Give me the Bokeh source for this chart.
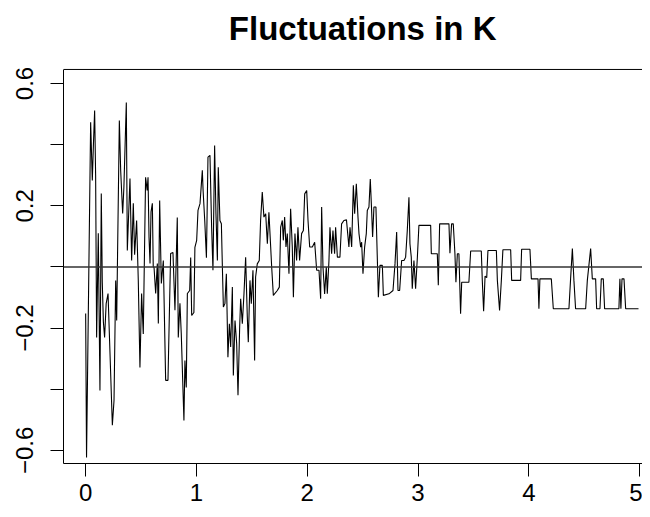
from bokeh.plotting import figure
from bokeh.models import Span, FixedTicker, LinearAxis, Range1d, Label
from bokeh.embed import file_html
from bokeh.resources import INLINE

# ---- data ----
t_vals = [
    0.000, 0.008, 0.045, 0.060, 0.070, 0.081, 0.090, 0.099, 0.114, 0.129,
    0.141, 0.150, 0.160, 0.171, 0.185, 0.202, 0.241, 0.256, 0.271, 0.280,
    0.304, 0.316, 0.334, 0.345, 0.367, 0.376, 0.400, 0.415, 0.430, 0.442,
    0.460, 0.475, 0.490, 0.505, 0.520, 0.541, 0.555, 0.563, 0.572, 0.581,
    0.590, 0.602, 0.610, 0.617, 0.632, 0.647, 0.656, 0.668, 0.683, 0.701,
    0.722, 0.743, 0.767, 0.788, 0.806, 0.827, 0.836, 0.851, 0.863, 0.887,
    0.896, 0.908, 0.918, 0.939, 0.948, 0.957, 0.977, 0.986, 1.002, 1.014,
    1.032, 1.053, 1.060, 1.075, 1.090, 1.104, 1.122, 1.137, 1.149, 1.164,
    1.176, 1.189, 1.197, 1.212, 1.225, 1.234, 1.243, 1.257, 1.270, 1.284,
    1.297, 1.309, 1.324, 1.333, 1.348, 1.363, 1.375, 1.390, 1.399, 1.414,
    1.429, 1.444, 1.459, 1.468, 1.483, 1.495, 1.510, 1.525, 1.534, 1.549,
    1.567, 1.579, 1.594, 1.609, 1.625, 1.640, 1.654, 1.670, 1.679, 1.694,
    1.730, 1.748, 1.760, 1.775, 1.784, 1.796, 1.808, 1.820, 1.835, 1.850,
    1.865, 1.875, 1.889, 1.904, 1.916, 1.931, 1.949, 1.965, 1.977, 1.995,
    2.007, 2.022, 2.046, 2.067, 2.085, 2.106, 2.121, 2.130, 2.142, 2.157,
    2.172, 2.181, 2.196, 2.205, 2.220, 2.232, 2.247, 2.256, 2.272, 2.295,
    2.310, 2.331, 2.354, 2.376, 2.386, 2.401, 2.416, 2.428, 2.443, 2.458,
    2.467, 2.482, 2.491, 2.503, 2.518, 2.533, 2.542, 2.557, 2.569, 2.581,
    2.590, 2.602, 2.620, 2.633, 2.642, 2.656, 2.678, 2.687, 2.738, 2.774,
    2.792, 2.807, 2.819, 2.834, 2.852, 2.873, 2.888, 2.903, 2.918, 2.927,
    2.939, 2.948, 2.963, 2.978, 2.994, 3.008, 3.114, 3.120, 3.174, 3.183,
    3.195, 3.279, 3.288, 3.303, 3.318, 3.333, 3.342, 3.355, 3.369, 3.384,
    3.394, 3.459, 3.475, 3.571, 3.580, 3.592, 3.605, 3.620, 3.631, 3.707,
    3.716, 3.736, 3.752, 3.766, 3.836, 3.845, 3.926, 3.935, 4.010, 4.023,
    4.083, 4.091, 4.100, 4.203, 4.221, 4.362, 4.377, 4.393, 4.407, 4.422,
    4.513, 4.528, 4.558, 4.573, 4.603, 4.612, 4.642, 4.654, 4.672, 4.684,
    4.813, 4.822, 4.831, 4.841, 4.859, 4.874, 4.990,
]
k_vals = [
    -0.152, -0.623, 0.473, 0.283, 0.400, 0.512, 0.300, -0.231, 0.110, -0.404,
    0.240, -0.050, -0.180, -0.231, -0.120, -0.087, -0.518, -0.437, -0.044, -0.175,
    0.479, 0.316, 0.175, 0.260, 0.538, 0.054, 0.289, 0.021, 0.208, 0.040,
    0.152, -0.044, -0.329, -0.087, -0.219, 0.293, 0.250, 0.293, 0.096, 0.011,
    0.180, 0.208, 0.000, 0.000, -0.087, 0.011, -0.185, 0.217, -0.054, 0.021,
    -0.371, -0.371, 0.044, 0.047, -0.142, 0.162, -0.231, -0.119, -0.219, -0.502,
    -0.306, -0.394, -0.087, -0.077, 0.031, -0.159, -0.149, 0.064, 0.087, 0.185,
    0.207, 0.316, 0.250, 0.150, 0.030, 0.359, 0.365, 0.130, -0.011, 0.397,
    0.174, 0.021, 0.326, 0.152, 0.141, 0.000, -0.131, -0.120, -0.022, -0.295,
    -0.186, -0.262, -0.066, -0.355, -0.175, -0.251, -0.420, -0.197, -0.104, -0.186,
    -0.088, 0.032, -0.164, -0.246, -0.044, -0.120, -0.011, -0.306, -0.033, 0.010,
    0.021, 0.152, 0.245, 0.163, 0.174, 0.076, 0.179, 0.065, 0.000, -0.093,
    -0.077, -0.066, 0.130, 0.152, 0.087, 0.163, 0.065, 0.109, -0.022, 0.190,
    0.065, -0.099, 0.109, 0.021, 0.130, 0.021, 0.109, 0.119, 0.239, 0.250,
    0.152, 0.065, 0.065, 0.081, -0.011, -0.011, -0.104, 0.196, 0.000, -0.088,
    0.000, -0.088, 0.021, 0.130, 0.043, 0.119, 0.043, 0.130, 0.032, 0.032,
    0.141, 0.152, 0.154, 0.065, 0.130, 0.065, 0.267, 0.174, 0.272, 0.163,
    0.109, 0.065, 0.081, -0.022, 0.065, 0.109, 0.185, 0.196, 0.288, 0.185,
    0.098, 0.196, 0.196, 0.021, -0.099, 0.005, 0.005, -0.093, -0.088, -0.077,
    0.010, 0.114, -0.077, -0.077, 0.021, 0.021, 0.032, 0.119, 0.228, 0.076,
    0.032, -0.071, 0.021, -0.071, 0.032, 0.136, 0.136, 0.043, 0.043, -0.060,
    0.141, 0.141, 0.045, 0.141, 0.141, 0.043, -0.050, 0.043, 0.043, -0.153,
    -0.050, -0.050, 0.052, 0.052, -0.044, -0.145, -0.030, -0.035, 0.054, 0.054,
    -0.044, -0.142, -0.044, 0.056, 0.056, -0.044, -0.044, 0.058, 0.058, -0.039,
    -0.039, -0.137, -0.039, -0.039, -0.137, -0.137, -0.039, 0.060, -0.044, -0.137,
    -0.137, -0.044, 0.060, -0.039, -0.039, -0.137, -0.137, -0.039, -0.039, -0.137,
    -0.137, -0.039, -0.137, -0.039, -0.039, -0.137, -0.137,
]
x_ticks = [0, 1, 2, 3, 4, 5]
y_label_ticks = [-0.6, -0.2, 0.2, 0.6]
y_plain_ticks = [-0.4, 0.0, 0.4]
title_text = "Fluctuations in K"

FONT = "Liberation Sans"
Y_LO, Y_HI = -0.643, 0.646      # the plot box
Y_TOP = 0.8716                  # room above the box for the title

p = figure(
    output_backend="svg", toolbar_location=None,
    frame_width=579, frame_height=463,
    min_border_left=63, min_border_top=0, min_border_right=0, min_border_bottom=45,
    x_range=Range1d(-0.2, 5.026), y_range=Range1d(Y_LO, Y_TOP),
    x_axis_type=None, y_axis_type=None,
    background_fill_color="white", border_fill_color="white",
)
p.grid.visible = False
p.outline_line_color = None

def style_axis(ax):
    ax.axis_line_color = "black"
    ax.axis_line_width = 1
    ax.major_tick_line_color = "black"
    ax.minor_tick_line_color = "black"
    ax.major_tick_in = 0
    ax.minor_tick_in = 0
    ax.major_tick_out = 13
    ax.minor_tick_out = 13
    ax.major_label_text_font = FONT
    ax.major_label_text_font_size = "24px"
    ax.major_label_text_color = "black"

xb = LinearAxis(ticker=FixedTicker(ticks=x_ticks))
style_axis(xb)
xb.major_label_standoff = 7
p.add_layout(xb, "below")

yl = LinearAxis(ticker=FixedTicker(ticks=y_label_ticks, minor_ticks=y_plain_ticks),
                bounds=(Y_LO, Y_HI))
style_axis(yl)
yl.major_label_orientation = "vertical"
yl.major_label_standoff = 17
p.add_layout(yl, "left")

# top edge of the box
p.add_layout(Span(location=Y_HI, dimension="width", line_color="black", line_width=1))
# reference line at zero
p.add_layout(Span(location=0, dimension="width", line_color="#333333", line_width=1.4))

p.line(t_vals, k_vals, line_color="black", line_width=1.1)

# title, centred over the full R plot region (x from -0.2 to 5.2)
p.add_layout(Label(x=2.5, y=0.780, text=title_text, text_align="center",
                   text_baseline="alphabetic", text_font=FONT,
                   text_font_style="bold", text_font_size="33px",
                   text_color="black"))

open("out.html", "w").write(file_html(p, INLINE))
